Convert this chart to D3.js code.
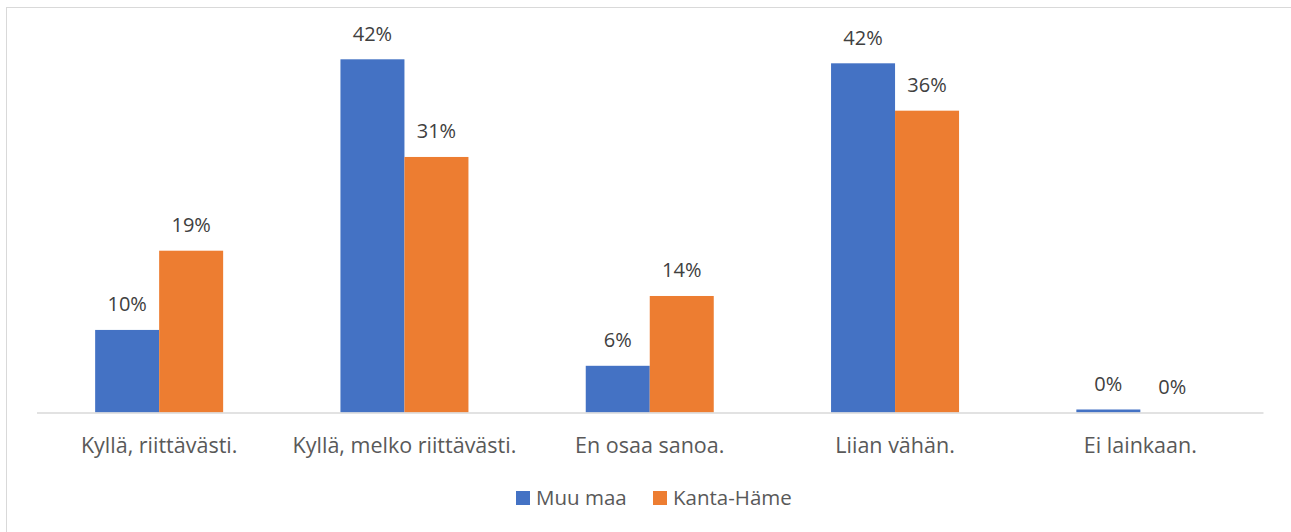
<!DOCTYPE html>
<html>
<head>
<meta charset="utf-8">
<script src="https://cdn.jsdelivr.net/npm/d3@7"></script>
<style>
  html, body { margin: 0; padding: 0; background: #fff; }
  svg { display: block; }
  text { font-family: "Open Sans", "Liberation Sans", Arial, sans-serif; }
</style>
</head>
<body>
<svg id="chart" width="1291" height="532"></svg>
<script>
const categories = ["Kyllä, riittävästi.", "Kyllä, melko riittävästi.", "En osaa sanoa.", "Liian vähän.", "Ei lainkaan."];
const seriesNames = ["Muu maa", "Kanta-Häme"];
const muuMaa = [9.9, 42.35, 5.6, 41.87, 0.36];
const kantaHame = [19.4, 30.64, 13.97, 36.19, 0];
const colors = ["#4472C4", "#ED7D31"];
const yMax = 45;

const W = 1291, H = 532;
const FONT = "\"Open Sans\", \"Liberation Sans\", Arial, sans-serif";
const margin = { left: 36.5, right: 28, top: 37.2, bottom: 119.5 };
const svg = d3.select("#chart");

// outer frame
svg.append("rect")
  .attr("x", 6.5).attr("y", 7.5)
  .attr("width", W + 10).attr("height", H + 10)
  .attr("fill", "none").attr("stroke", "#d9d9d9").attr("stroke-width", 1);

const x0 = d3.scaleBand().domain(categories).range([margin.left, W - margin.right]);
const x1 = d3.scaleBand().domain(seriesNames).range([0, 128]);
const y = d3.scaleLinear().domain([0, yMax]).range([H - margin.bottom, margin.top]);

const data = categories.map((c, i) => ({ cat: c, vals: [muuMaa[i], kantaHame[i]] }));

const g = svg.append("g");
const groups = g.selectAll("g.grp").data(data).join("g")
  .attr("class", "grp")
  .attr("transform", d => `translate(${x0(d.cat) + x0.bandwidth() / 2 - 64},0)`);

groups.selectAll("rect").data(d => d.vals.map((v, j) => ({ v, s: seriesNames[j], j })))
  .join("rect")
  .attr("x", d => x1(d.s))
  .attr("y", d => y(d.v))
  .attr("width", x1.bandwidth())
  .attr("height", d => y(0) - y(d.v))
  .attr("fill", d => colors[d.j]);

groups.selectAll("text.lbl").data(d => d.vals.map((v, j) => ({ v, s: seriesNames[j], j })))
  .join("text")
  .attr("class", "lbl")
  .attr("x", d => x1(d.s) + x1.bandwidth() / 2)
  .attr("y", d => y(d.v) - 18.5)
  .attr("text-anchor", "middle")
  .attr("font-size", "20px")
  .attr("fill", "#404040")
  .text(d => Math.round(d.v) + "%");

// x axis
const xAxis = d3.axisBottom(x0).tickSize(0).tickPadding(0);
const ax = svg.append("g").attr("transform", `translate(0,${y(0)})`).call(xAxis);
ax.select(".domain").attr("stroke", "#d9d9d9").attr("stroke-width", 1.5);
ax.selectAll(".tick text")
  .attr("dy", null)
  .attr("y", 40)
  .attr("font-size", "21.5px")
  .attr("font-family", FONT)
  .attr("fill", "#595959");

// legend
const legendItems = [
  { name: seriesNames[0], color: colors[0], sx: 516, tx: 536 },
  { name: seriesNames[1], color: colors[1], sx: 653, tx: 673 }
];
const lg = svg.append("g");
lg.selectAll("rect").data(legendItems).join("rect")
  .attr("x", d => d.sx).attr("y", 491)
  .attr("width", 14).attr("height", 14)
  .attr("fill", d => d.color);
lg.selectAll("text").data(legendItems).join("text")
  .attr("x", d => d.tx).attr("y", 504.5)
  .attr("font-size", "20.5px")
  .attr("fill", "#595959")
  .text(d => d.name);
</script>
</body>
</html>
